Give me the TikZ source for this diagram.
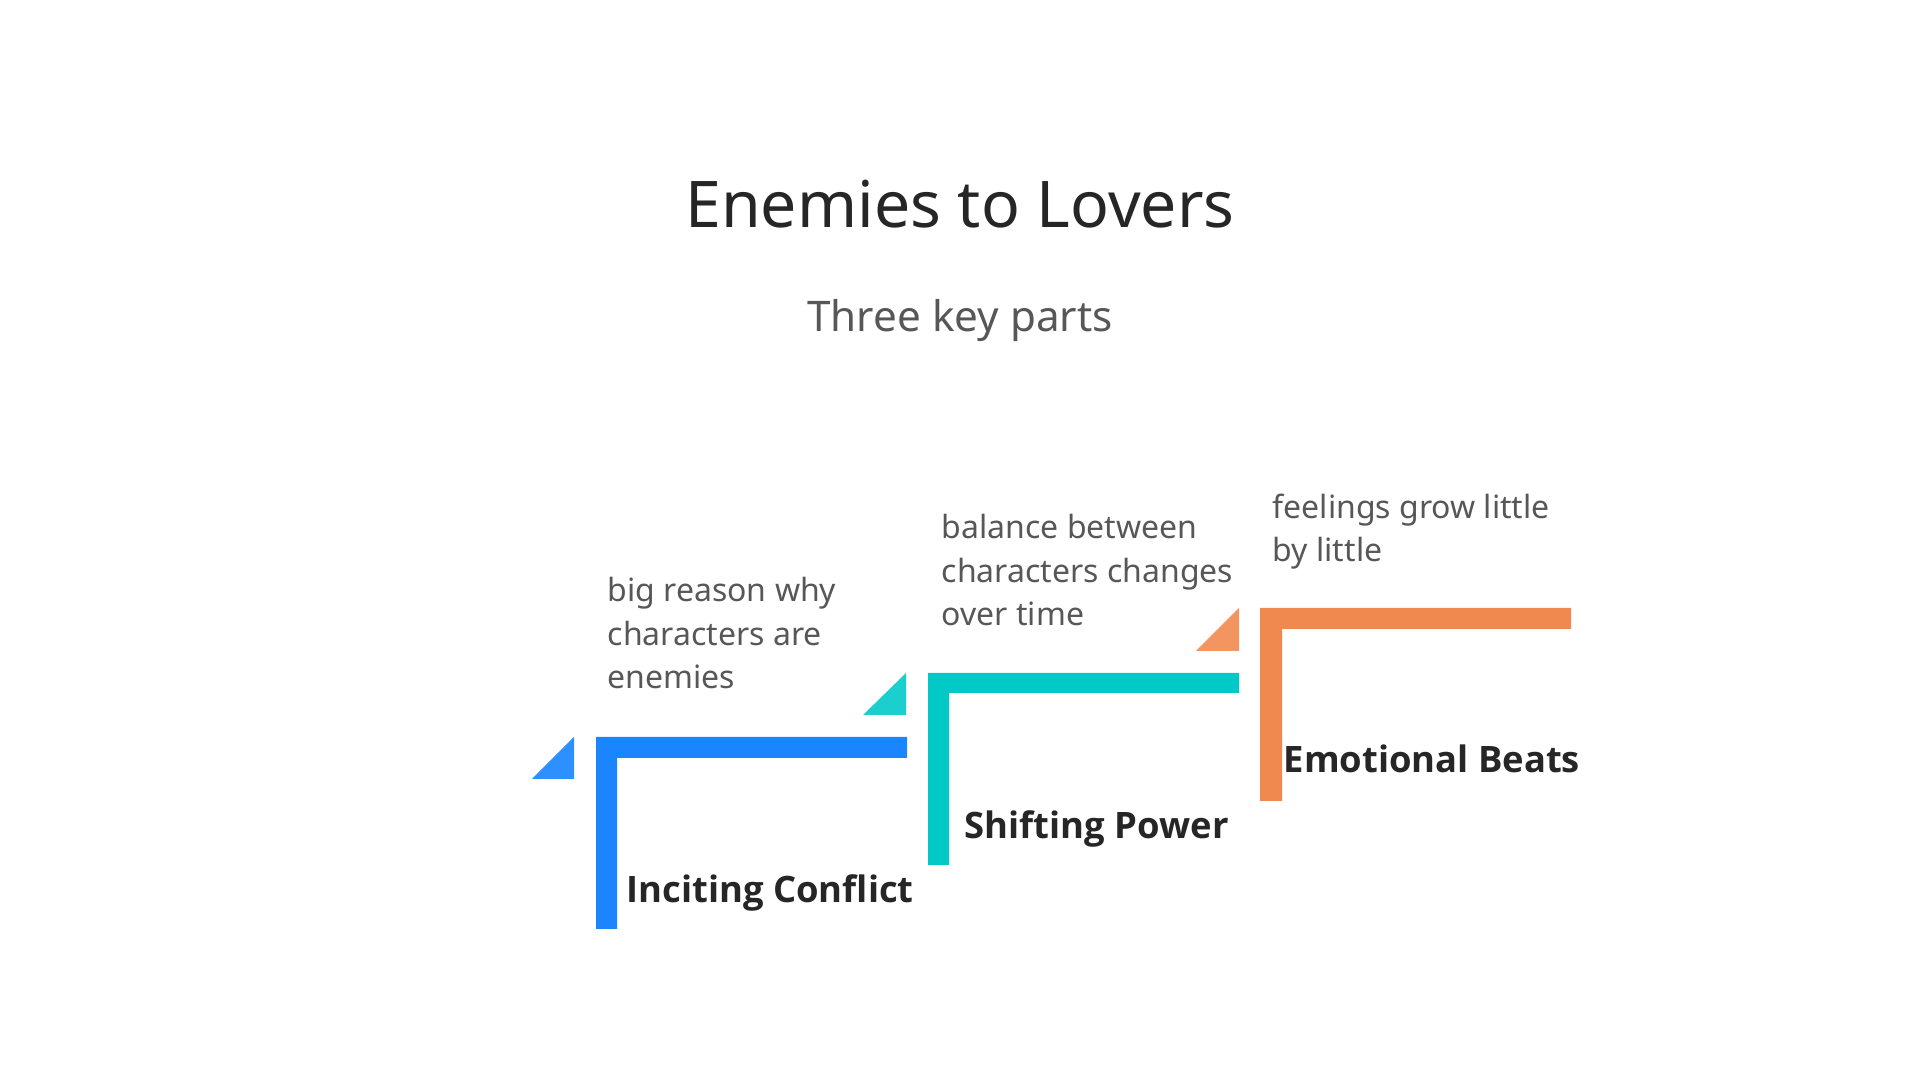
\documentclass[tikz,border=0pt]{standalone}
\usepackage{fontspec}
\setmainfont{Noto Sans}
\newfontfamily\labelfont{Open Sans}
\definecolor{cblue}{HTML}{1A85FF}
\definecolor{cbluetri}{HTML}{2E8FFF}
\definecolor{cteal}{HTML}{00C9C8}
\definecolor{ctealtri}{HTML}{1BCFCF}
\definecolor{corange}{HTML}{F0894F}
\definecolor{corangetri}{HTML}{F29560}
\definecolor{ctitle}{HTML}{262626}
\definecolor{cbody}{HTML}{575757}
\tikzset{
  titletext/.style={anchor=base, text=ctitle, inner sep=0pt, font=\fontsize{18.3}{22}\selectfont},
  subtext/.style={anchor=base, text=cbody, inner sep=0pt, font=\fontsize{12}{15}\selectfont},
  labeltext/.style={anchor=base west, text=ctitle, inner sep=0pt, font=\labelfont\bfseries\fontsize{10.35}{13}\selectfont},
  bodytext/.style={anchor=base west, text=cbody, inner sep=0pt, align=left, font=\fontsize{9.1}{12.5}\selectfont},
}
\begin{document}
\begin{tikzpicture}[x=0.01cm, y=-0.01cm]
\useasboundingbox (0,0) rectangle (1920,1080);
% title
\node[titletext] (title) at (960,228) {Enemies to Lovers};
\node[subtext] (subtitle) at (960,332) {Three key parts};
% step 1 (blue)
\fill[cblue] (596,737) -- (907,737) -- (907,758) -- (617,758) -- (617,929) -- (596,929) -- cycle;
\fill[cbluetri] (532,779) -- (574,779) -- (574,737) -- cycle;
\node[labeltext] (l1) at (626,903) {Inciting Conflict};
\node[bodytext] (b1) at (607,689) {big reason why\\characters are\\enemies};
% step 2 (teal)
\fill[cteal] (928,673) -- (1239,673) -- (1239,693) -- (949,693) -- (949,865) -- (928,865) -- cycle;
\fill[ctealtri] (863,715) -- (906,715) -- (906,673) -- cycle;
\node[labeltext] (l2) at (964,839) {Shifting Power};
\node[bodytext] (b2) at (941,626) {balance between\\characters changes\\over time};
% step 3 (orange)
\fill[corange] (1260,608) -- (1571,608) -- (1571,629) -- (1282,629) -- (1282,801) -- (1260,801) -- cycle;
\fill[corangetri] (1196,651) -- (1239,651) -- (1239,608) -- cycle;
\node[labeltext] (l3) at (1283,773) {Emotional Beats};
\node[bodytext] (b3) at (1272,562) {feelings grow little\\by little};
\end{tikzpicture}
\end{document}
